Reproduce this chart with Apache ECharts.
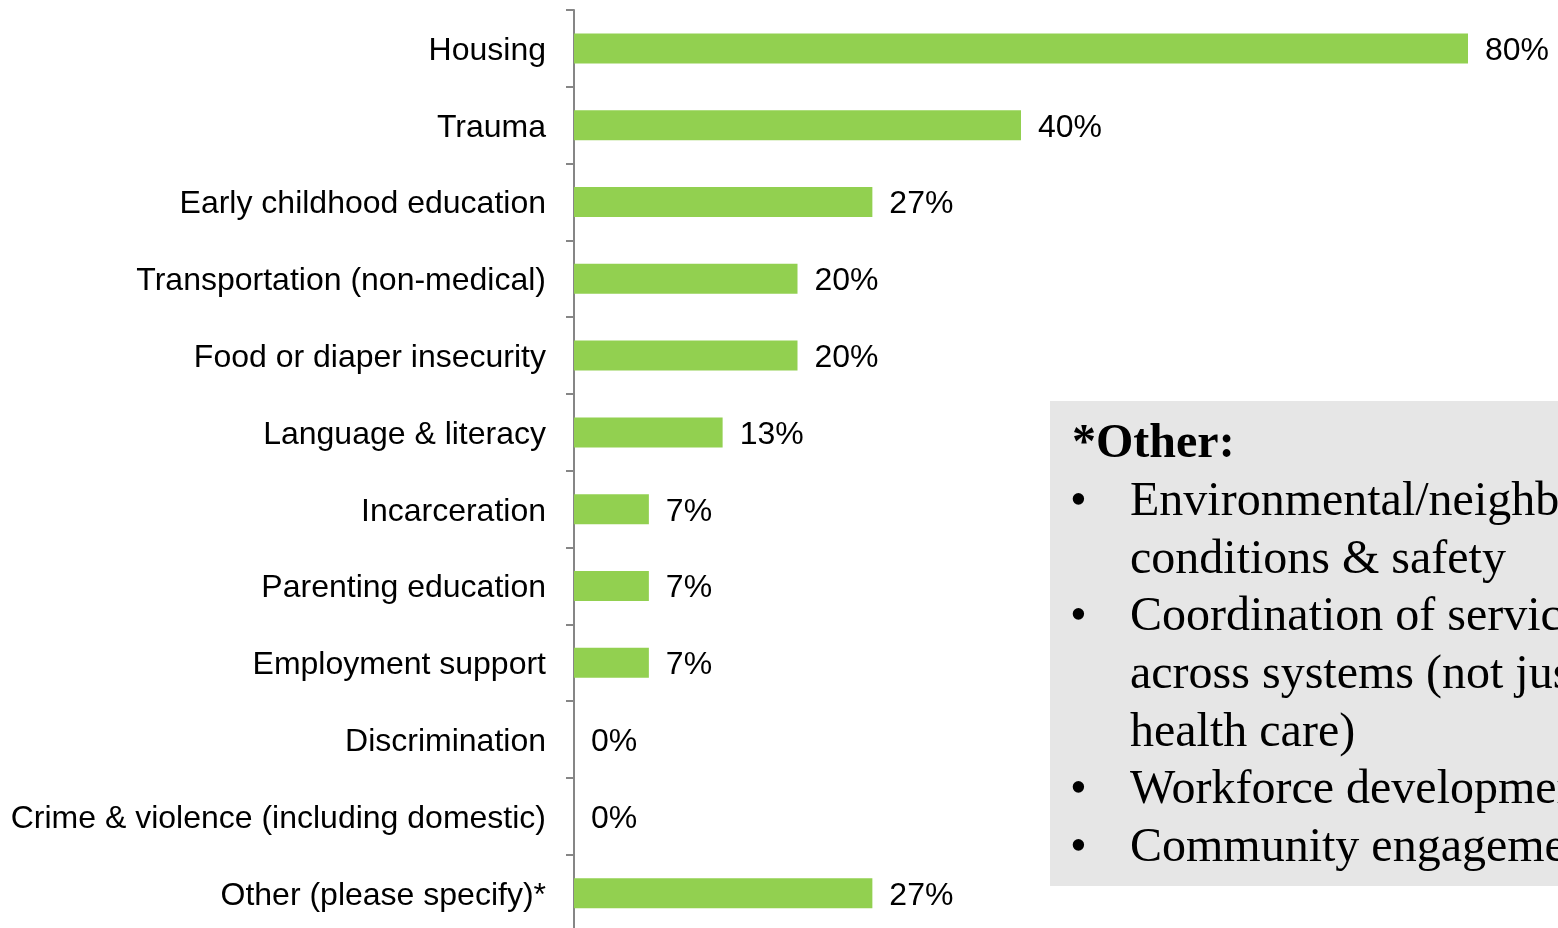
<!DOCTYPE html>
<html>
<head>
<meta charset="utf-8">
<script src="https://cdn.jsdelivr.net/npm/echarts@6/dist/echarts.min.js"></script>
<style>
html,body{margin:0;padding:0;background:#fff;overflow:hidden;}
#chart{width:1558px;height:934px;}
</style>
</head>
<body>
<div id="chart"></div>
<script>
const categories = [
  'Housing',
  'Trauma',
  'Early childhood education',
  'Transportation (non-medical)',
  'Food or diaper insecurity',
  'Language & literacy',
  'Incarceration',
  'Parenting education',
  'Employment support',
  'Discrimination',
  'Crime & violence (including domestic)',
  'Other (please specify)*'
];
const values = [80, 40, 26.7, 20, 20, 13.3, 6.7, 6.7, 6.7, 0, 0, 26.7];
const noteTitle = '*Other:';
const noteLines = [
  {bullet: true,  text: 'Environmental/neighborhood'},
  {bullet: false, text: 'conditions & safety'},
  {bullet: true,  text: 'Coordination of services'},
  {bullet: false, text: 'across systems (not just'},
  {bullet: false, text: 'health care)'},
  {bullet: true,  text: 'Workforce development'},
  {bullet: true,  text: 'Community engagement'}
];

const chart = echarts.init(document.getElementById('chart'), null, {renderer: 'canvas'});

const serif = '"Liberation Serif", "Times New Roman", serif';
const baseY = 457, lineH = 57.6, midOff = 12;
const graphics = [
  {type: 'rect', left: 1050, top: 401, shape: {width: 520, height: 485}, style: {fill: '#e6e6e6'}, z: 1},
  {type: 'text', x: 1072, y: baseY - midOff, z: 2,
   style: {text: noteTitle, font: 'bold 48px ' + serif, fill: '#000', textVerticalAlign: 'middle', verticalAlign: 'middle'}}
];
noteLines.forEach((l, i) => {
  const y = baseY + (i + 1) * lineH - midOff;
  if (l.bullet) {
    graphics.push({type: 'text', x: 1070, y: y, z: 2,
      style: {text: '\u2022', font: '48px ' + serif, fill: '#000', textVerticalAlign: 'middle', verticalAlign: 'middle'}});
  }
  graphics.push({type: 'text', x: 1130, y: y, z: 2,
    style: {text: l.text, font: '48px ' + serif, fill: '#000', textVerticalAlign: 'middle', verticalAlign: 'middle'}});
});

chart.setOption({
  animation: false,
  grid: {left: 574, top: 10, width: 894, height: 921.6, containLabel: false},
  xAxis: {
    type: 'value', min: 0, max: 80, show: false
  },
  yAxis: {
    type: 'category',
    data: categories,
    inverse: true,
    axisLine: {show: true, lineStyle: {color: '#868686', width: 2}},
    axisTick: {show: true, length: 8, alignWithLabel: false, lineStyle: {color: '#868686', width: 2}},
    axisLabel: {
      margin: 28,
      color: '#000',
      fontSize: 32,
      verticalAlign: 'top',
      lineHeight: 5,
      fontFamily: '"Liberation Sans", Arial, sans-serif'
    },
    splitLine: {show: false}
  },
  series: [{
    type: 'bar',
    data: values,
    barWidth: 30,
    itemStyle: {color: '#92D050'},
    label: {
      show: true,
      position: 'right',
      distance: 17,
      color: '#000',
      fontSize: 32,
      verticalAlign: 'top',
      lineHeight: 5,
      fontFamily: '"Liberation Sans", Arial, sans-serif',
      formatter: p => Math.round(p.value) + '%'
    }
  }],
  graphic: graphics
});
</script>
</body>
</html>
